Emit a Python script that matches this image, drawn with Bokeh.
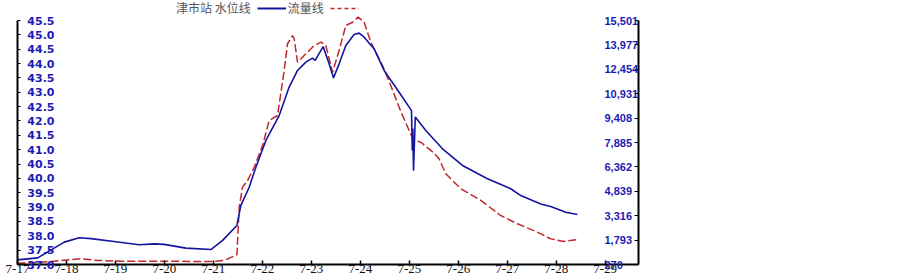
from bokeh.plotting import figure
from bokeh.models import Range1d, LinearAxis, FixedTicker, Legend, LegendItem
from bokeh.embed import file_html
from bokeh.resources import INLINE

# ---- data ----
date_ticks = [0, 1, 2, 3, 4, 5, 6, 7, 8, 9, 10, 11, 12]
date_labels = ["7-17", "7-18", "7-19", "7-20", "7-21", "7-22", "7-23",
               "7-24", "7-25", "7-26", "7-27", "7-28", "7-29"]

level_ticks = [37.0, 37.5, 38.0, 38.5, 39.0, 39.5, 40.0, 40.5, 41.0,
               41.5, 42.0, 42.5, 43.0, 43.5, 44.0, 44.5, 45.0, 45.5]
level_labels = ["37.0", "37.5", "38.0", "38.5", "39.0", "39.5", "40.0", "40.5", "41.0",
                "41.5", "42.0", "42.5", "43.0", "43.5", "44.0", "44.5", "45.0", "45.5"]

flow_ticks = [270, 1793.1, 3316.2, 4839.3, 6362.4, 7885.5, 9408.6,
              10931.7, 12454.8, 13977.9, 15501]
flow_labels = ["270", "1,793", "3,316", "4,839", "6,362", "7,885", "9,408",
               "10,931", "12,454", "13,977", "15,501"]

# water level (days since 7-17 00:00)
level_days = [0.0, 0.412, 0.955, 1.261, 1.5, 1.969, 2.486, 2.792, 2.996, 3.439,
              3.949, 4.188, 4.480, 4.527, 4.561, 4.731, 4.867, 5.071, 5.343, 5.547,
              5.718, 5.888, 6.024, 6.078, 6.241, 6.363, 6.453, 6.567, 6.704, 6.873,
              6.976, 7.078, 7.282, 7.486, 7.792, 8.045, 8.061, 8.071, 8.086, 8.122,
              8.337, 8.678, 9.086, 9.596, 10.071, 10.276, 10.684, 10.888, 11.194, 11.433]
level_values = [37.16, 37.23, 37.78, 37.93, 37.90, 37.80, 37.69, 37.72, 37.70, 37.57,
                37.52, 37.84, 38.36, 38.77, 39.06, 39.69, 40.39, 41.32, 42.19, 43.18,
                43.76, 44.05, 44.19, 44.11, 44.59, 43.99, 43.50, 43.99, 44.63, 45.01,
                45.06, 44.92, 44.51, 43.76, 43.00, 42.36, 40.97, 41.74, 40.27, 42.14,
                41.67, 41.03, 40.45, 39.99, 39.64, 39.40, 39.11, 39.02, 38.82, 38.74]

# discharge
flow_days = [0.0, 0.480, 0.888, 1.296, 1.637, 2.112, 3.949, 4.220, 4.480, 4.527,
             4.596, 4.698, 4.833, 5.004, 5.139, 5.310, 5.445, 5.514, 5.616, 5.649,
             5.718, 5.888, 6.037, 6.194, 6.296, 6.433, 6.567, 6.704, 6.841, 6.955,
             7.078, 7.214, 7.453, 7.622, 7.827, 8.031, 8.098, 8.235, 8.506, 8.608,
             8.745, 9.051, 9.459, 9.867, 10.208, 10.616, 10.888, 11.159, 11.433]
flow_values = [350, 410, 520, 630, 520, 480, 460, 520, 880, 3850,
               5100, 5510, 6340, 7700, 9260, 9570, 12380, 14050, 14560, 14360,
               12900, 13420, 13880, 14150, 13940, 12270, 13630, 15190, 15390, 15710,
               15390, 14150, 12690, 11440, 9820, 8390, 8050, 7900, 7220, 6870,
               5930, 5000, 4270, 3330, 2810, 2290, 1870, 1710, 1830]

BLUE = "#14149e"
RED = "#c0262c"
LABEL_BLUE = "#1c1cb4"
NAN = float("nan")

# axis spans; the frame extends 20px above the top tick to hold the legend
LEVEL_MIN, LEVEL_MAX = 37.0, 45.5
FLOW_MIN, FLOW_MAX = 270, 15501
AXIS_PX = 244.0
HEAD_PX = 20.0
level_top = LEVEL_MAX + HEAD_PX * (LEVEL_MAX - LEVEL_MIN) / AXIS_PX
flow_top = FLOW_MAX + HEAD_PX * (FLOW_MAX - FLOW_MIN) / AXIS_PX

p = figure(width=903, height=279, output_backend="svg", toolbar_location=None,
           x_range=Range1d(0, 12.68), y_range=Range1d(LEVEL_MIN, level_top),
           min_border_left=17, min_border_top=0, min_border_right=265,
           min_border_bottom=15)
p.extra_y_ranges = {"flow": Range1d(FLOW_MIN, flow_top)}
p.grid.visible = False
p.outline_line_color = None
p.background_fill_color = "white"

# bottom axis
xa = p.xaxis[0]
xa.ticker = FixedTicker(ticks=date_ticks)
xa.major_label_overrides = {t: l for t, l in zip(date_ticks, date_labels)}
xa.axis_line_width = 2
xa.axis_line_color = "black"
xa.major_tick_in = 4
xa.major_tick_out = 0
xa.major_tick_line_width = 1.5
xa.minor_tick_line_color = None
xa.major_label_standoff = 0
xa.major_label_text_font = "Liberation Serif"
xa.major_label_text_font_size = "13px"
xa.major_label_text_color = "#111111"

# left axis (labels inside)
ya = p.yaxis[0]
ya.ticker = FixedTicker(ticks=level_ticks)
ya.bounds = (LEVEL_MIN, LEVEL_MAX)
ya.major_label_overrides = {t: l for t, l in zip(level_ticks, level_labels)}
ya.axis_line_width = 2
ya.axis_line_color = "black"
ya.major_tick_in = 3
ya.major_tick_out = 0
ya.minor_tick_line_color = None
ya.major_label_standoff = -37
ya.major_label_text_font = "DejaVu Sans"
ya.major_label_text_font_style = "bold"
ya.major_label_text_font_size = "11px"
ya.major_label_text_color = LABEL_BLUE

# right axis (labels inside)
ra = LinearAxis(y_range_name="flow", ticker=FixedTicker(ticks=flow_ticks),
                bounds=(FLOW_MIN, FLOW_MAX))
ra.major_label_overrides = {t: l for t, l in zip(flow_ticks, flow_labels)}
ra.axis_line_width = 2
ra.axis_line_color = "black"
ra.major_tick_in = 4
ra.major_tick_out = 0
ra.minor_tick_line_color = None
ra.major_label_standoff = -34
ra.major_label_text_font = "Liberation Sans"
ra.major_label_text_font_style = "bold"
ra.major_label_text_font_size = "11px"
ra.major_label_text_color = LABEL_BLUE
p.add_layout(ra, "right")

# data lines
p.line(flow_days, flow_values, y_range_name="flow", line_color=RED,
       line_width=1.5, line_dash="8 3")
p.line(level_days, level_values, line_color=BLUE, line_width=1.6)

# legend (title-like); dummy renderers carry only the legend styles
r_title = p.line([NAN], [NAN], line_alpha=0)
r_lvl = p.line([NAN], [NAN], line_color=BLUE, line_width=2)
r_flw = p.line([NAN], [NAN], line_color=RED, line_width=1.5, line_dash="4 3")
legend = Legend(items=[LegendItem(label="津市站 水位线", renderers=[r_title]),
                       LegendItem(label="流量线", renderers=[r_lvl]),
                       LegendItem(label=" ", renderers=[r_flw])],
                orientation="horizontal", location=(128, 248),
                border_line_color=None, background_fill_alpha=0,
                padding=0, margin=0, spacing=6, label_standoff=2,
                glyph_width=29, glyph_height=14, label_height=14,
                label_text_font="Noto Sans CJK SC", label_text_font_size="12px",
                label_text_color="#555555")
p.add_layout(legend)

open("out.html", "w").write(file_html(p, INLINE))
